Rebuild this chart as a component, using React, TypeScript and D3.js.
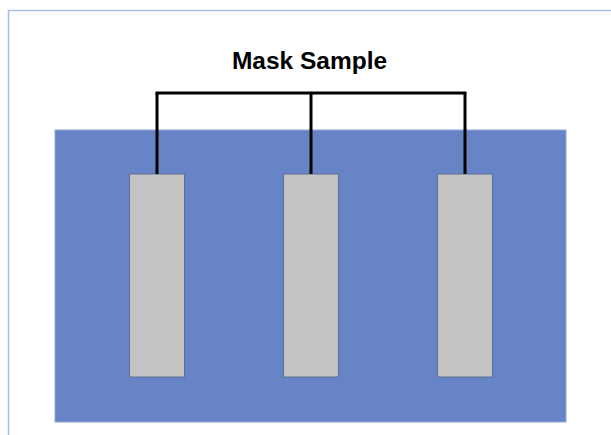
import React from "react";
import * as d3 from "d3";

const title = "Mask Sample";
const samples = ["A", "B", "C"];
const sampleHeights = [1, 1, 1];

const W = 611;
const H = 435;

export default function App() {
  const x = d3.scalePoint<string>().domain(samples).range([157, 465]);
  const y = d3.scaleLinear().domain([0, 1]).range([377, 174]);
  const barW = 55;
  const bracketY = 93;
  const line = d3.line<[number, number]>();
  return (
    <svg
      width={W}
      height={H}
      style={{ position: "absolute", left: 0, top: 0, background: "#fff" }}
    >
      <path
        d={`M8.5,${H + 5} L8.5,10.5 L${W + 5},10.5`}
        fill="none"
        stroke="#a9bfe6"
        strokeWidth={1.5}
      />
      <rect x={55} y={130} width={511} height={292} fill="#6684c6" stroke="#8fa6da" strokeWidth={1} />
      {samples.map((s, i) => (
        <rect
          key={s}
          x={(x(s) as number) - barW / 2}
          y={y(sampleHeights[i])}
          width={barW}
          height={y(0) - y(sampleHeights[i])}
          fill="#c4c2c3"
          stroke="#5e6f93"
          strokeWidth={1}
        />
      ))}
      <path
        d={line([
          [x(samples[0]) as number, bracketY],
          [x(samples[samples.length - 1]) as number, bracketY],
        ]) as string}
        stroke="#000"
        strokeWidth={3}
        strokeLinecap="square"
        fill="none"
      />
      {samples.map((s, i) => (
        <path
          key={"v" + s}
          d={line([
            [x(s) as number, bracketY],
            [x(s) as number, y(sampleHeights[i])],
          ]) as string}
          stroke="#000"
          strokeWidth={3}
          fill="none"
        />
      ))}
      <text
        x={309.5}
        y={68.5}
        textAnchor="middle"
        fontFamily="Liberation Sans, Arial, sans-serif"
        fontWeight="bold"
        fontSize={24.5}
        fill="#000"
      >
        {title}
      </text>
    </svg>
  );
}
